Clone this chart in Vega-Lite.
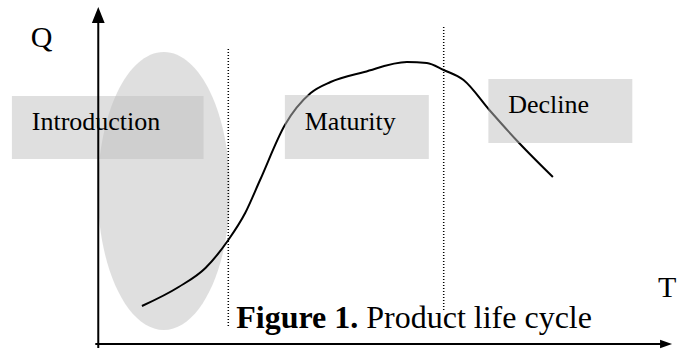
{
  "$schema": "https://vega.github.io/schema/vega-lite/v6.json",
  "width": 677,
  "height": 352,
  "padding": 0,
  "autosize": {"type": "fit", "contains": "padding"},
  "background": "white",
  "config": {"view": {"stroke": null}, "text": {"font": "Liberation Serif"}},
  "datasets": {
    "ellipse": [{"t": 66, "q": 153}],
    "curve": [
      {"t": 44, "q": 38}, {"t": 81, "q": 57}, {"t": 108, "q": 76}, {"t": 131, "q": 104},
      {"t": 148, "q": 131}, {"t": 163, "q": 164}, {"t": 188, "q": 219}, {"t": 214, "q": 251},
      {"t": 234, "q": 262}, {"t": 268, "q": 272}, {"t": 311, "q": 282}, {"t": 331, "q": 281},
      {"t": 348, "q": 274}, {"t": 368, "q": 264}, {"t": 394, "q": 234}, {"t": 424, "q": 201},
      {"t": 458, "q": 167}
    ],
    "boxes": [
      {"stage": "Introduction", "t": -87, "t2": 106, "q": 248, "q2": 185},
      {"stage": "Maturity", "t": 188, "t2": 333, "q": 249, "q2": 185},
      {"stage": "Decline", "t": 393, "t2": 538, "q": 265, "q2": 201}
    ],
    "dividers": [
      {"id": "a", "t": 131, "q": 295, "q2": 17},
      {"id": "b", "t": 348, "q": 317, "q2": 32}
    ],
    "labels": [
      {"label": "Introduction", "t": -67, "q": 214},
      {"label": "Maturity", "t": 208, "q": 214},
      {"label": "Decline", "t": 413, "q": 231}
    ],
    "axisnames": [
      {"label": "Q", "t": -68, "q": 297},
      {"label": "T", "t": 564, "q": 47}
    ],
    "caption_bold": [{"label": "Figure 1.", "t": 139, "q": 16}],
    "caption": [{"label": "Product life cycle", "t": 270, "q": 16}],
    "axes": [
      {"id": "y", "t": 0, "t2": 0, "q": -4, "q2": 322},
      {"id": "x", "t": -3, "t2": 570, "q": 0, "q2": 0}
    ],
    "uparrow": [{"t": 0, "q": 329}],
    "rightarrow": [{"t": 572, "q": 0}]
  },
  "encoding": {
    "x": {"field": "t", "type": "quantitative", "scale": {"domain": [-99, 578], "nice": false, "zero": false}, "axis": null},
    "y": {"field": "q", "type": "quantitative", "scale": {"domain": [-8, 344], "nice": false, "zero": false}, "axis": null}
  },
  "layer": [
    {
      "data": {"name": "ellipse"},
      "mark": {"type": "point", "shape": "M -0.475 0 A 0.475 1 0 1 0 0.475 0 A 0.475 1 0 1 0 -0.475 0 Z", "size": 77284, "filled": true, "fill": "#c0c0c0", "fillOpacity": 0.5, "opacity": 1, "strokeWidth": 0}
    },
    {
      "data": {"name": "curve"},
      "mark": {"type": "line", "interpolate": "monotone", "stroke": "black", "strokeWidth": 2}
    },
    {
      "data": {"name": "boxes"},
      "mark": {"type": "rect", "fill": "#c0c0c0", "fillOpacity": 0.5},
      "encoding": {"x2": {"field": "t2"}, "y2": {"field": "q2"}}
    },
    {
      "data": {"name": "dividers"},
      "mark": {"type": "rule", "stroke": "black", "strokeWidth": 1.5, "strokeDash": [1, 2]},
      "encoding": {"y2": {"field": "q2"}, "detail": {"field": "id"}}
    },
    {
      "data": {"name": "labels"},
      "mark": {"type": "text", "align": "left", "baseline": "alphabetic", "fontSize": 26, "color": "black"},
      "encoding": {"text": {"field": "label"}}
    },
    {
      "data": {"name": "axisnames"},
      "mark": {"type": "text", "align": "left", "baseline": "alphabetic", "fontSize": 30, "color": "black"},
      "encoding": {"text": {"field": "label"}}
    },
    {
      "data": {"name": "caption_bold"},
      "mark": {"type": "text", "align": "left", "baseline": "alphabetic", "fontSize": 32, "fontWeight": "bold", "color": "black"},
      "encoding": {"text": {"field": "label"}}
    },
    {
      "data": {"name": "caption"},
      "mark": {"type": "text", "align": "left", "baseline": "alphabetic", "fontSize": 32, "color": "black"},
      "encoding": {"text": {"field": "label"}}
    },
    {
      "data": {"name": "axes"},
      "mark": {"type": "rule", "stroke": "black", "strokeWidth": 2},
      "encoding": {"x2": {"field": "t2"}, "y2": {"field": "q2"}, "detail": {"field": "id"}}
    },
    {
      "data": {"name": "uparrow"},
      "mark": {"type": "point", "shape": "M 0 -1 L 0.8 1 L -0.8 1 Z", "size": 256, "filled": true, "fill": "black", "opacity": 1, "strokeWidth": 0}
    },
    {
      "data": {"name": "rightarrow"},
      "mark": {"type": "point", "shape": "M 1 0 L -1 -0.7 L -1 0.7 Z", "size": 144, "filled": true, "fill": "black", "opacity": 1, "strokeWidth": 0}
    }
  ]
}
